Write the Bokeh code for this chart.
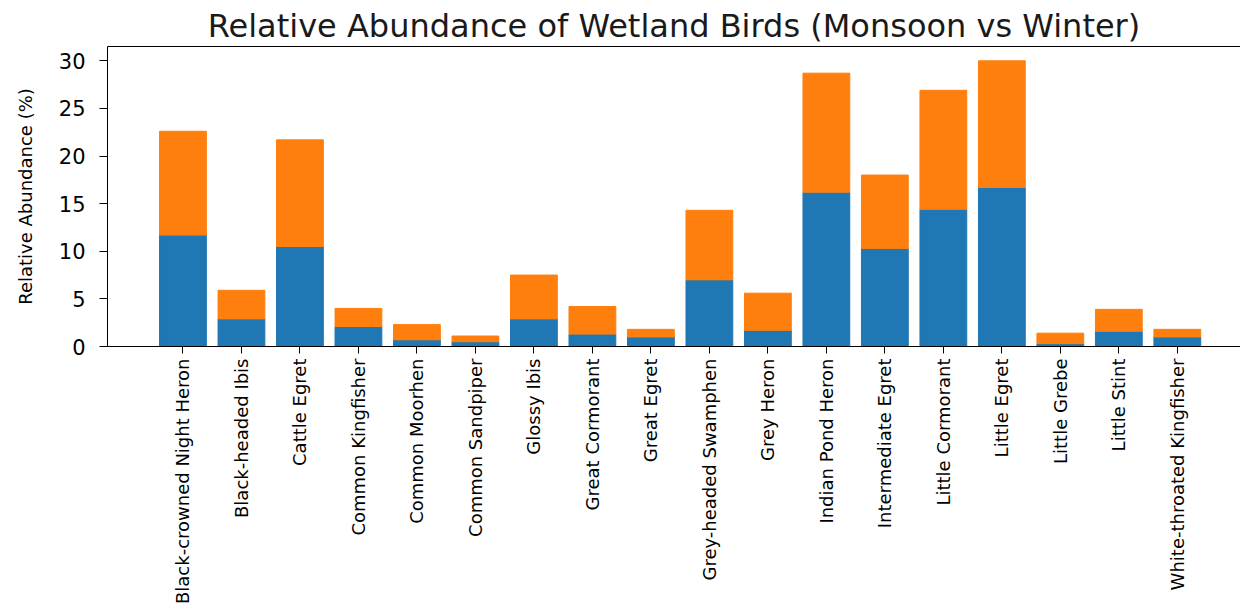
import math
from bokeh.plotting import figure
from bokeh.models import ColumnDataSource, Range1d, FixedTicker, LinearAxis
from bokeh.embed import file_html
from bokeh.resources import INLINE

categories = [
    "Black-crowned Night Heron", "Black-headed Ibis", "Cattle Egret",
    "Common Kingfisher", "Common Moorhen", "Common Sandpiper", "Glossy Ibis",
    "Great Cormorant", "Great Egret", "Grey-headed Swamphen", "Grey Heron",
    "Indian Pond Heron", "Intermediate Egret", "Little Cormorant",
    "Little Egret", "Little Grebe", "Little Stint", "White-throated Kingfisher",
]
monsoon = [11.7, 2.9, 10.5, 2.1, 0.7, 0.5, 2.9, 1.3, 1.0, 7.0, 1.7, 16.2,
           10.3, 14.4, 16.7, 0.3, 1.6, 1.0]
winter = [10.9, 3.0, 11.2, 1.9, 1.6, 0.6, 4.6, 2.9, 0.8, 7.3, 3.9, 12.5,
          7.7, 12.5, 13.3, 1.1, 2.3, 0.8]
y_ticks = [0, 5, 10, 15, 20, 25, 30]

x = list(range(len(categories)))
source = ColumnDataSource(dict(x=x, monsoon=monsoon, winter=winter))

FONT = "DejaVu Sans"

p = figure(width=1240, height=607, output_backend="svg", toolbar_location=None,
           x_range=Range1d(-1.29, 18.08), y_range=Range1d(0, 31.5),
           min_border_left=107, min_border_right=0, min_border_top=46,
           min_border_bottom=260,
           title="Relative Abundance of Wetland Birds (Monsoon vs Winter)")

p.vbar_stack(["monsoon", "winter"], x="x", width=0.8,
             color=["#1f77b4", "#ff7f0e"], source=source)

p.xgrid.visible = False
p.ygrid.visible = False
p.outline_line_color = None
p.background_fill_color = "white"
p.border_fill_color = "white"

p.title.text_font = FONT
p.title.text_font_size = "32px"
p.title.text_font_style = "normal"
p.title.text_color = "#1a1a1a"
p.title.align = "center"
p.title.standoff = 3

xa = p.xaxis[0]
xa.ticker = FixedTicker(ticks=x)
xa.major_label_overrides = {i: c for i, c in zip(x, categories)}
xa.major_label_orientation = math.pi / 2
xa.major_tick_out = 7
xa.major_tick_in = 0
xa.minor_tick_out = 0
xa.minor_tick_in = 0
xa.axis_line_color = "black"
xa.major_tick_line_color = "black"
xa.major_label_text_font = FONT
xa.major_label_text_font_size = "18px"
xa.major_label_text_color = "black"
xa.major_label_standoff = 5

ya = p.yaxis[0]
ya.ticker = FixedTicker(ticks=y_ticks)
ya.major_tick_out = 8
ya.major_tick_in = 0
ya.minor_tick_out = 0
ya.minor_tick_in = 0
ya.axis_line_color = "black"
ya.major_tick_line_color = "black"
ya.major_label_text_font = FONT
ya.major_label_text_font_size = "21px"
ya.major_label_text_color = "black"
ya.major_label_standoff = 14
ya.axis_label = "Relative Abundance (%)"
ya.axis_label_text_font = FONT
ya.axis_label_text_font_size = "18px"
ya.axis_label_text_font_style = "normal"
ya.axis_label_text_color = "black"
ya.axis_label_standoff = 20

top = LinearAxis(ticker=FixedTicker(ticks=[]), major_tick_out=0, major_tick_in=0,
                 minor_tick_out=0, minor_tick_in=0, major_label_text_font_size="0px",
                 axis_line_color="black")
p.add_layout(top, "above")

open("out.html", "w").write(file_html(p, INLINE))
